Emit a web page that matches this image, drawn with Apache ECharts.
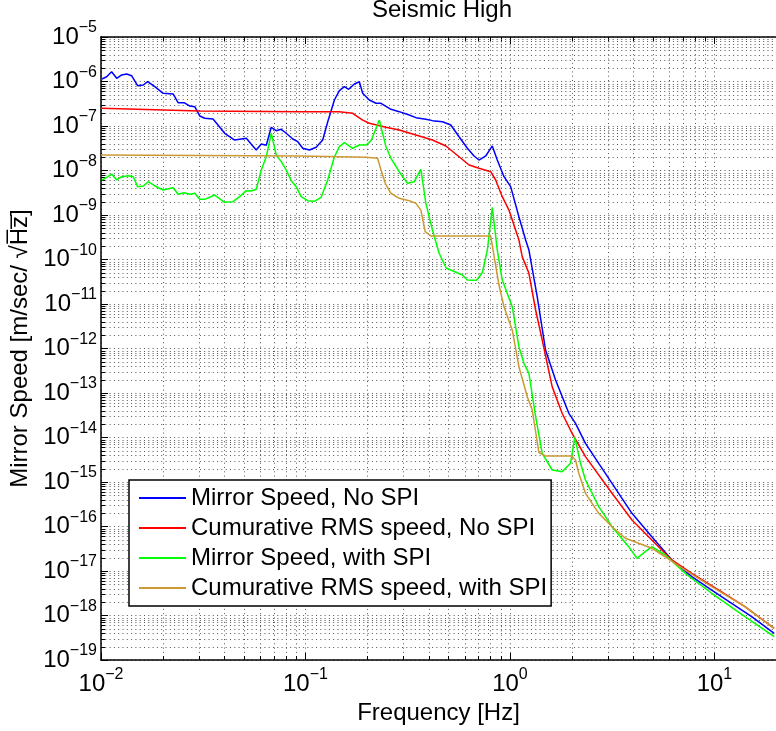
<!DOCTYPE html>
<html><head><meta charset="utf-8">
<script src="https://cdn.jsdelivr.net/npm/echarts@6/dist/echarts.min.js"></script>
<style>html,body{margin:0;padding:0;background:#fff}#c{width:776px;height:731px}</style>
</head><body><div id="c"></div>
<script>
const FONT = '"Liberation Sans", Arial, Helvetica, sans-serif';
const chartTitle = 'Seismic High';
const xName = 'Frequency [Hz]';
const yName = 'Mirror Speed [m/sec/ \u221AH\u0305z\u0305]';
const seriesNames = ['Mirror Speed, No SPI', 'Cumurative RMS speed, No SPI', 'Mirror Speed, with SPI', 'Cumurative RMS speed, with SPI'];
const seriesColors = ['#0000FF', '#FF0000', '#00FF00', '#CC9933'];

// axis ranges and tick decades
const xMin = 0.01, xMax = 20;
const yMin = 1e-19, yMax = 1e-5;
const xDecades = [-2, -1, 0, 1];
const yDecades = [-19, -18, -17, -16, -15, -14, -13, -12, -11, -10, -9, -8, -7, -6, -5];
const minorMultipliers = [2, 3, 4, 5, 6, 7, 8, 9];

// Mirror Speed, No SPI
const blueFreq = [0.0101,0.01066,0.01127,0.01193,0.01262,0.01335,0.01411,0.0151,0.0161,0.0169,0.01834,0.02013,0.02253,0.02382,0.02549,0.02718,0.02874,0.0304,0.03217,0.0353,0.03734,0.04027,0.04505,0.05137,0.05433,0.05746,0.06079,0.0643,0.06801,0.07194,0.07609,0.08048,0.0867,0.0917,0.097,0.1046,0.1128,0.1214,0.1284,0.1385,0.1465,0.155,0.1626,0.1734,0.1834,0.1904,0.2052,0.2213,0.2341,0.2618,0.2874,0.3217,0.3467,0.388,0.4178,0.4677,0.5137,0.5639,0.6189,0.6674,0.7059,0.7612,0.8196,0.867,0.935,1.008,1.106,1.193,1.238,1.359,1.493,1.671,1.941,2.092,2.34,2.717,3.04,3.95,4.94,6.19,7.75,9.7,12.14,15.2,19.6];
const blueSpeed = [1.14e-6,1.28e-6,1.66e-6,1.18e-6,1.40e-6,1.48e-6,1.35e-6,8.05e-7,8.34e-7,9.9e-7,7.64e-7,5.43e-7,5.24e-7,3.34e-7,3.34e-7,2.81e-7,2.72e-7,1.68e-7,1.49e-7,1.44e-7,1.05e-7,6.86e-8,4.84e-8,5.30e-8,3.88e-8,2.89e-8,3.94e-8,3.68e-8,9.35e-8,7.84e-8,8.43e-8,6.86e-8,5.10e-8,4.44e-8,3.16e-8,2.89e-8,3.32e-8,4.84e-8,1.23e-7,3.84e-7,6.21e-7,7.64e-7,6.68e-7,8.79e-7,9.9e-7,5.43e-7,3.84e-7,3.24e-7,3.24e-7,2.37e-7,2.10e-7,1.77e-7,1.54e-7,1.42e-7,1.32e-7,1.25e-7,1.05e-7,5.75e-8,3.16e-8,2.12e-8,1.72e-8,2.12e-8,3.56e-8,1.72e-8,7.26e-9,4.33e-9,9.16e-10,2.74e-10,1.63e-10,1.46e-11,9.25e-13,1.96e-13,3.50e-14,2.08e-14,7.41e-15,2.63e-15,1.21e-15,1.98e-16,5.90e-17,1.77e-17,7.45e-18,3.74e-18,1.88e-18,9.40e-19,3.98e-19];

// Cumurative RMS speed, No SPI
const redFreq = [0.01,0.0304,0.0935,0.1465,0.1701,0.1904,0.2052,0.2475,0.2874,0.3467,0.4178,0.4858,0.5639,0.631,0.7059,0.805,0.8514,0.917,0.989,1.106,1.148,1.238,1.335,1.438,1.608,1.799,2.013,2.34,3.155,3.95,4.94,6.19,7.75,10.46,14.1,19.6];
const redSpeed = [2.50e-7,2.17e-7,2.10e-7,2.10e-7,1.93e-7,1.36e-7,1.15e-7,9.35e-8,8.13e-8,6.28e-8,4.84e-8,3.56e-8,2.04e-8,1.33e-8,1.12e-8,9.40e-9,6.12e-9,2.58e-9,1.29e-9,2.74e-10,1.16e-10,4.90e-11,7.33e-12,1.55e-12,1.39e-13,3.50e-14,1.24e-14,3.71e-15,5.57e-16,1.40e-16,4.98e-17,1.77e-17,8.87e-18,3.74e-18,1.58e-18,5.15e-19];

// Mirror Speed, with SPI
const greenFreq = [0.0101,0.01066,0.01127,0.01193,0.01262,0.01359,0.01438,0.0151,0.0161,0.01701,0.01834,0.02013,0.02253,0.02382,0.02549,0.02718,0.02874,0.0304,0.03217,0.03598,0.04027,0.04419,0.04764,0.05137,0.05433,0.05746,0.06079,0.0643,0.06801,0.07194,0.07609,0.08048,0.08514,0.09006,0.09527,0.1026,0.1106,0.1193,0.1284,0.1385,0.1465,0.155,0.1701,0.1834,0.1978,0.2092,0.2296,0.2475,0.2618,0.2874,0.3155,0.3402,0.3667,0.388,0.4178,0.4504,0.4874,0.5853,0.6189,0.6866,0.7327,0.775,0.8196,0.867,0.917,1.026,1.106,1.17,1.238,1.335,1.438,1.608,1.799,1.978,2.075,2.213,2.34,2.717,3.155,3.806,4.18,4.59,4.94,5.75,7.19,9.7,14.1,19.6];
const greenSpeed = [6.12e-9,7.03e-9,8.34e-9,6.12e-9,7.26e-9,7.64e-9,7.26e-9,4.33e-9,4.49e-9,5.60e-9,4.49e-9,3.65e-9,4.10e-9,2.92e-9,3.17e-9,2.92e-9,3.08e-9,2.25e-9,2.25e-9,2.81e-9,1.93e-9,1.99e-9,2.58e-9,3.52e-9,3.46e-9,3.78e-9,1.03e-8,2.04e-8,6.86e-8,2.23e-8,1.58e-8,1.03e-8,5.90e-9,4.33e-9,2.58e-9,2.10e-9,2.03e-9,2.50e-9,6.12e-9,2.04e-8,3.43e-8,4.22e-8,3.16e-8,3.74e-8,3.74e-8,4.68e-8,1.36e-7,3.43e-8,1.88e-8,9.40e-9,5.15e-9,5.60e-9,1.06e-8,1.83e-9,4.60e-10,1.38e-10,6.44e-11,4.49e-11,3.46e-11,3.42e-11,5.10e-11,1.63e-10,1.49e-9,1.63e-10,3.46e-11,8.69e-12,1.10e-12,4.65e-13,2.77e-13,2.93e-14,4.42e-15,1.86e-15,1.70e-15,2.63e-15,1.01e-14,2.63e-15,1.11e-15,2.79e-16,9.9e-17,3.52e-17,1.93e-17,2.72e-17,3.52e-17,2.29e-17,8.87e-18,3.16e-18,9.40e-19,3.34e-19];

// Cumurative RMS speed, with SPI
const goldFreq = [0.01,0.0935,0.1978,0.2253,0.2341,0.2456,0.2618,0.2874,0.3217,0.3467,0.3667,0.3849,0.4104,0.805,0.8196,0.8837,0.935,1.026,1.106,1.215,1.285,1.385,1.493,2.006,2.092,2.171,2.34,2.717,3.155,3.667,4.26,4.94,5.75,7.19,9.7,14.1,19.6];
const goldSpeed = [2.23e-8,2.12e-8,1.98e-8,1.88e-8,1.03e-8,5.15e-9,3.08e-9,2.37e-9,2.10e-9,1.83e-9,1.29e-9,4.22e-10,3.37e-10,3.37e-10,3.25e-10,2.67e-11,8.69e-12,2.61e-12,3.90e-13,8.26e-14,4.15e-14,4.60e-15,3.84e-15,3.84e-15,3.12e-15,1.57e-15,5.57e-16,1.98e-16,9.9e-17,5.43e-17,4.19e-17,3.24e-17,2.09e-17,1.05e-17,4.44e-18,1.58e-18,5.15e-19];

const GRID_COLOR = '#555';
const GRID_DASH = [1, 3.3];

const pairs = (f, v) => f.map((x, i) => [x, v[i]]);
const xMinor = [];
xDecades.forEach(d => minorMultipliers.forEach(m => { const v = m * Math.pow(10, d); if (v <= xMax) xMinor.push(+v.toPrecision(3)); }));
const yMinor = [];
yDecades.slice(0, -1).forEach(d => minorMultipliers.forEach(m => yMinor.push(+(m * Math.pow(10, d)).toPrecision(3))));

function supLabel(v) {
  const e = Math.round(Math.log10(v));
  return '{base|10}{sup|' + (e < 0 ? '\u2212' + (-e) : String(e)) + '}';
}
const richSup = {
  base: { fontSize: 24, fontFamily: FONT, color: '#000' },
  sup: { fontSize: 16, fontFamily: FONT, color: '#000', padding: [0, 0, 18, 0] }
};

function gridRender(isX) {
  return function (params, api) {
    const cs = params.coordSys;
    const tick = { stroke: '#000', lineWidth: 1 };
    const dash = { stroke: GRID_COLOR, lineWidth: 1, lineDash: GRID_DASH };
    if (isX) {
      const x = Math.round(api.coord([api.value(0), 1e-12])[0]) + 0.5;
      const y0 = cs.y, y1 = cs.y + cs.height;
      return { type: 'group', children: [
        { type: 'line', shape: { x1: x, y1: y0, x2: x, y2: y1 }, style: dash },
        { type: 'line', shape: { x1: x, y1: y1, x2: x, y2: y1 - 4 }, style: tick },
        { type: 'line', shape: { x1: x, y1: y0, x2: x, y2: y0 + 4 }, style: tick }
      ]};
    }
    const y = Math.round(api.coord([1, api.value(1)])[1]) + 0.5;
    const x0 = cs.x, x1 = cs.x + cs.width;
    return { type: 'group', children: [
      { type: 'line', shape: { x1: x0, y1: y, x2: x1, y2: y }, style: dash },
      { type: 'line', shape: { x1: x0, y1: y, x2: x0 + 4, y2: y }, style: tick }
    ]};
  };
}

const chart = echarts.init(document.getElementById('c'), null, { renderer: 'canvas' });
const lineSeries = [
  [blueFreq, blueSpeed], [redFreq, redSpeed], [greenFreq, greenSpeed], [goldFreq, goldSpeed]
].map((s, i) => ({
  type: 'line', name: seriesNames[i], data: pairs(s[0], s[1]),
  symbol: 'none', showSymbol: false, smooth: false, z: 3 + i,
  lineStyle: { color: seriesColors[i], width: 1.5 }, itemStyle: { color: seriesColors[i] },
  xAxisIndex: 0, yAxisIndex: 0
}));

chart.setOption({
  animation: false,
  backgroundColor: '#fff',
  textStyle: { fontFamily: FONT },
  title: { text: chartTitle, left: 372, top: -2, padding: 0,
    textStyle: { fontSize: 24, fontWeight: 'normal', color: '#000', fontFamily: FONT } },
  grid: { left: 101, top: 37, right: -6, bottom: 71, containLabel: false },
  legend: {
    orient: 'vertical', left: 129, top: 480, padding: [5, 4, 5, 10],
    itemWidth: 47, itemHeight: 2, itemGap: 4, selectedMode: false, icon: 'rect',
    borderColor: '#000', borderWidth: 1.5, backgroundColor: '#fff',
    textStyle: { fontSize: 24, lineHeight: 26, color: '#000', fontFamily: FONT },
    data: seriesNames, z: 20
  },
  xAxis: [{
    type: 'log', logBase: 10, min: xMin, max: xMax, position: 'bottom', interval: 1,
    name: xName, nameLocation: 'middle', nameGap: 40,
    nameTextStyle: { fontSize: 24, color: '#000', fontFamily: FONT },
    axisLine: { show: true, lineStyle: { color: '#000', width: 1.5 } },
    axisTick: { show: true, inside: true, length: 7, lineStyle: { color: '#000', width: 1 } },
    axisLabel: { show: true, margin: 7, fontSize: 24, color: '#000', fontFamily: FONT,
      showMaxLabel: false, formatter: supLabel, rich: richSup },
    splitLine: { show: true, lineStyle: { color: GRID_COLOR, type: GRID_DASH, width: 1 } }
  }, {
    type: 'log', logBase: 10, min: xMin, max: xMax, position: 'top', interval: 1,
    axisLine: { show: true, lineStyle: { color: '#000', width: 1.5 } },
    axisTick: { show: true, inside: true, length: 7, lineStyle: { color: '#000', width: 1 } },
    axisLabel: { show: false }, splitLine: { show: false }
  }],
  yAxis: [{
    type: 'log', logBase: 10, min: yMin, max: yMax, interval: 1,
    name: yName, nameLocation: 'middle', nameGap: 66,
    nameTextStyle: { fontSize: 24, color: '#000', fontFamily: FONT },
    axisLine: { show: true, lineStyle: { color: '#000', width: 1.5 } },
    axisTick: { show: true, inside: true, length: 7, lineStyle: { color: '#000', width: 1 } },
    axisLabel: { show: true, margin: 4, fontSize: 24, color: '#000', fontFamily: FONT,
      formatter: supLabel, rich: richSup },
    splitLine: { show: true, lineStyle: { color: GRID_COLOR, type: GRID_DASH, width: 1 } }
  }],
  series: [
    { type: 'custom', name: 'xgrid', silent: true, z: 1, renderItem: gridRender(true),
      data: xMinor.map(v => [v, 1e-12]), xAxisIndex: 0, yAxisIndex: 0 },
    { type: 'custom', name: 'ygrid', silent: true, z: 1, renderItem: gridRender(false),
      data: yMinor.map(v => [1, v]), xAxisIndex: 0, yAxisIndex: 0 }
  ].concat(lineSeries)
});
</script></body></html>
